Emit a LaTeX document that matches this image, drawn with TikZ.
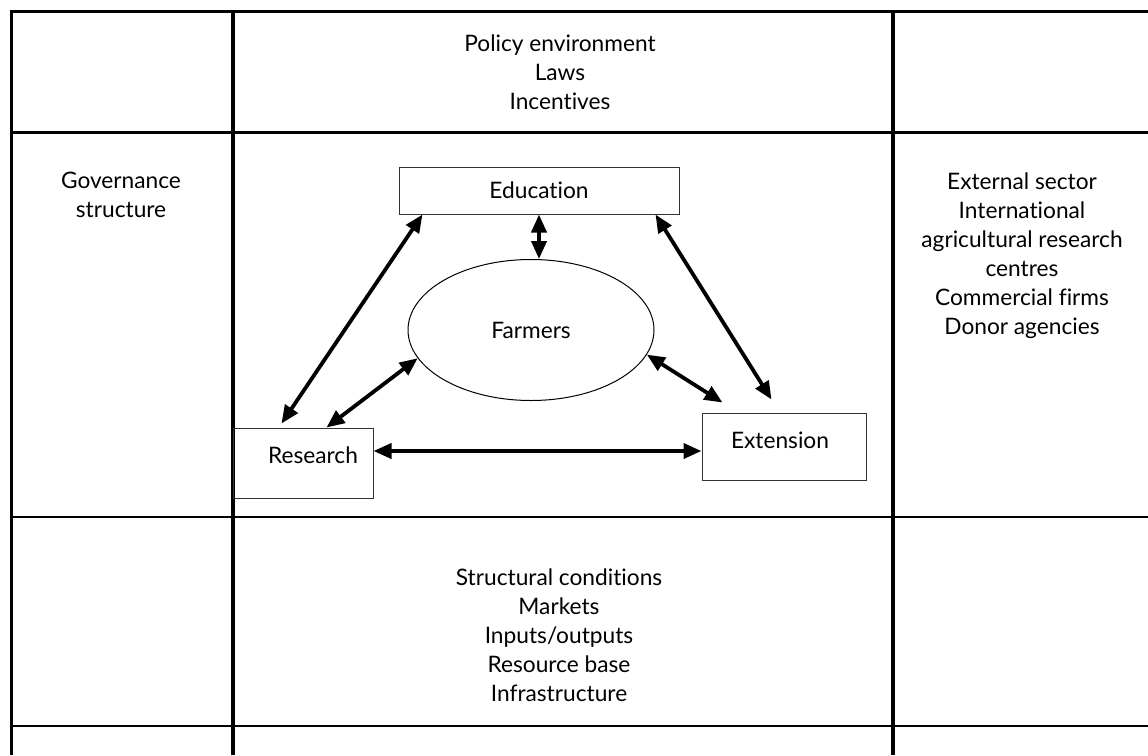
\documentclass[tikz,border=0pt]{standalone}
\usepackage{fontspec}
\setmainfont{Lato}[Ligatures=NoCommon]
\usetikzlibrary{shapes.geometric,arrows.meta}

\begin{document}
\begin{tikzpicture}[x=1pt,y=-1pt,
  every node/.style={font=\fontsize{22.7}{29}\selectfont},
  thinrule/.style={line width=2.5pt},
  thickrule/.style={line width=4pt},
  unit/.style={draw=black!80,line width=1pt,rectangle,inner sep=0pt},
  link/.style={line width=3.8pt,{Triangle[length=18pt,width=15pt]}-{Triangle[length=18pt,width=15pt]}}]
\useasboundingbox (0,0) rectangle (1148,755);
\draw[thinrule] (10,11.5) -- (1148,11.5);
\draw[thinrule] (10,132.5) -- (1148,132.5);
\draw[thinrule] (10,517) -- (1148,517);
\draw[thinrule] (10,726) -- (1148,726);
\draw[line width=3pt] (11,10) -- (11,755);
\draw[thickrule] (233,10) -- (233,755);
\draw[thickrule] (893,10) -- (893,755);
\node[align=center] (policy) at (560,72) {Policy environment\\Laws\\Incentives};
\node[align=center] (gov) at (121,195) {Governance\\structure};
\node[align=center] (outside) at (1022,256) {External sector\\International\\agricultural research\\centres\\Commercial firms\\Donor agencies};
\node[align=center] (cond) at (559,635) {Structural conditions\\Markets\\Inputs/outputs\\Resource base\\Infrastructure};
\node[unit,minimum width=280pt,minimum height=47pt] (edu) at (539,190.5) {Education};
\node[unit,minimum width=140pt,minimum height=70pt,label={[xshift=10pt,yshift=8pt]center:Research}] (res) at (303,463) {};
\node[unit,minimum width=164pt,minimum height=67pt,label={[xshift=-4pt,yshift=6pt]center:Extension}] (ext) at (784,446.5) {};
\node[draw,ellipse,line width=1pt,inner sep=0pt,minimum width=246pt,minimum height=141pt] (far) at (531,330) {Farmers};
\draw[link] ([xshift=24pt]edu.south west) -- ([xshift=49pt,yshift=4pt]res.north west);
\draw[link] (far.194) -- ([xshift=94pt]res.north west);
\draw[link] (edu.south) -- (edu.south |- far.north);
\draw[link] ([xshift=-24pt]edu.south east) -- ([xshift=70pt,yshift=13pt]ext.north west);
\draw[link] (far.348) -- ([xshift=21pt,yshift=10pt]ext.north west);
\draw[link] ([yshift=12pt]res.east) -- ([yshift=12pt]res.east -| ext.west);
\end{tikzpicture}
\end{document}
